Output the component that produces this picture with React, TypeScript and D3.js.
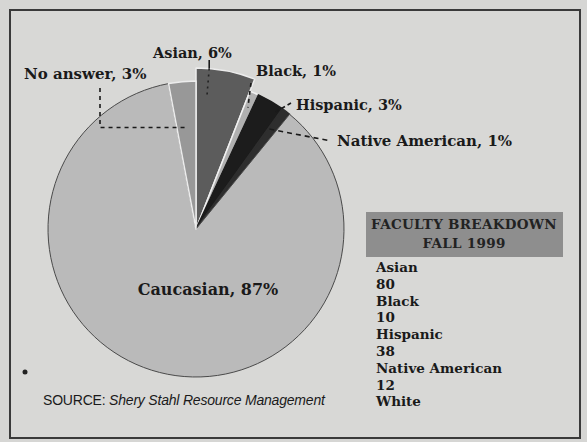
import React from "react";
import * as d3 from "d3";

const categories = ["Asian", "Black", "Hispanic", "Native American", "Caucasian", "No answer"];
const percents = [6, 1, 3, 1, 87, 3];
const sliceLabels = ["Asian, 6%", "Black, 1%", "Hispanic, 3%", "Native American, 1%", "Caucasian, 87%", "No answer, 3%"];
const breakdownNames = ["Asian", "Black", "Hispanic", "Native American", "White"];
const breakdownCounts = ["80", "10", "38", "12", ""];

const W = 587;
const H = 442;
const cx = 196;
const cy = 229;
const R = 148;

const fills: Record<string, string> = {
  Asian: "#5c5c5c",
  Black: "#b0b0b0",
  Hispanic: "#1c1c1c",
  "Native American": "#2e2e2e",
  Caucasian: "#bababa",
  "No answer": "#989898",
};

const strokes: Record<string, string> = {
  Asian: "#ececec",
  Black: "#f0f0f0",
  Hispanic: "#1c1c1c",
  "Native American": "#2e2e2e",
  Caucasian: "#4a4a4a",
  "No answer": "#ececec",
};

const outerR: Record<string, number> = { Asian: 161 };

const labelPos: Record<string, { x: number; y: number; anchor: string; size: number }> = {
  Asian: { x: 153, y: 58, anchor: "start", size: 14.5 },
  Black: { x: 256, y: 76, anchor: "start", size: 14.5 },
  Hispanic: { x: 296, y: 110, anchor: "start", size: 14.5 },
  "Native American": { x: 337, y: 146, anchor: "start", size: 15 },
  Caucasian: { x: 208, y: 295, anchor: "middle", size: 16 },
  "No answer": { x: 24, y: 79, anchor: "start", size: 15 },
};

const serif = "'DejaVu Serif', serif";

export default function App() {
  const pie = d3.pie<number>().sort(null).value((d) => d).startAngle(0);
  const arcs = pie(percents);

  const polar = (a: number, r: number): [number, number] => [cx + r * Math.sin(a), cy - r * Math.cos(a)];
  const asianA = arcs[0];
  const blackA = arcs[1];
  const hispA = arcs[2];
  const natA = arcs[3];
  const noA = arcs[5];

  const asianAng = asianA.startAngle + (asianA.endAngle - asianA.startAngle) * 0.22;
  const asianTop = polar(asianAng, 161);
  const asianIn = polar(asianAng, 134);
  const blackPt = polar((blackA.startAngle + blackA.endAngle) / 2, 132);
  const hispPt = polar(hispA.endAngle - 0.03, 140);
  const natPt = polar((natA.startAngle + natA.endAngle) / 2 - 0.02, 124);
  const noPt = polar((noA.startAngle + noA.endAngle) / 2, 102);

  const line = d3.line();

  return (
    <svg width={W} height={H} style={{ position: "absolute", left: 0, top: 0, background: "#d6d6d4" }}>
      <rect x={0} y={0} width={W} height={H} fill="#d6d6d4" />
      <rect x={10} y={10} width={570} height={428} fill="#d8d8d6" stroke="#3a3a3a" strokeWidth={2} />

      <g transform={`translate(${cx},${cy})`}>
        {arcs.map((a, i) => {
          const name = categories[i];
          const gen = d3.arc<d3.PieArcDatum<number>>().innerRadius(0).outerRadius(outerR[name] ?? R);
          return (
            <path
              key={name}
              d={gen(a) || ""}
              fill={fills[name]}
              stroke={strokes[name]}
              strokeWidth={name === "Caucasian" ? 1 : 1.5}
              strokeLinejoin="round"
            />
          );
        })}
      </g>

      <g fill="none" stroke="#1a1a1a" strokeWidth={1.6}>
        <path d={line([[asianTop[0], 60], asianTop]) || ""} />
        <path d={line([asianTop, asianIn]) || ""} strokeDasharray="2 4" stroke="#222" />
        <path d={line([[blackPt[0] + 3, 83], blackPt]) || ""} strokeDasharray="4 4" />
        <path d={line([[291, 103], hispPt]) || ""} strokeDasharray="4 3" />
        <path d={line([natPt, [331, 141]]) || ""} strokeDasharray="5 4" />
        <path d={line([[100, 88], [100, noPt[1]], [noPt[0], noPt[1]]]) || ""} strokeDasharray="4 4" />
      </g>

      {categories.map((name, i) => {
        const p = labelPos[name];
        return (
          <text
            key={name}
            x={p.x}
            y={p.y}
            textAnchor={p.anchor}
            fontFamily={serif}
            fontWeight="bold"
            fontSize={p.size}
            fill="#1a1a1a"
          >
            {sliceLabels[i]}
          </text>
        );
      })}

      <rect x={366} y={212} width={197} height={45} fill="#8e8e8e" />
      <text x={464} y={229} textAnchor="middle" fontFamily={serif} fontWeight="bold" fontSize={13.5} fill="#222" letterSpacing={0.3}>
        FACULTY BREAKDOWN
      </text>
      <text x={464} y={248} textAnchor="middle" fontFamily={serif} fontWeight="bold" fontSize={13.5} fill="#222" letterSpacing={0.3}>
        FALL 1999
      </text>
      {breakdownNames.flatMap((n, i) => {
        const items = [n, breakdownCounts[i]].filter((s) => s !== "");
        return items.map((s, j) => (
          <text
            key={n + j}
            x={376}
            y={272 + (i * 2 + j) * 16.8}
            fontFamily={serif}
            fontWeight="bold"
            fontSize={13.5}
            fill="#1a1a1a"
          >
            {s}
          </text>
        ));
      })}

      <circle cx={25} cy={372} r={2.5} fill="#222" />
      <text x={43} y={405} fontFamily="'Liberation Sans', sans-serif" fontSize={14} fill="#1a1a1a" letterSpacing={-0.2}>
        <tspan>SOURCE: </tspan>
        <tspan fontStyle="italic">Shery Stahl Resource Management</tspan>
      </text>
    </svg>
  );
}
